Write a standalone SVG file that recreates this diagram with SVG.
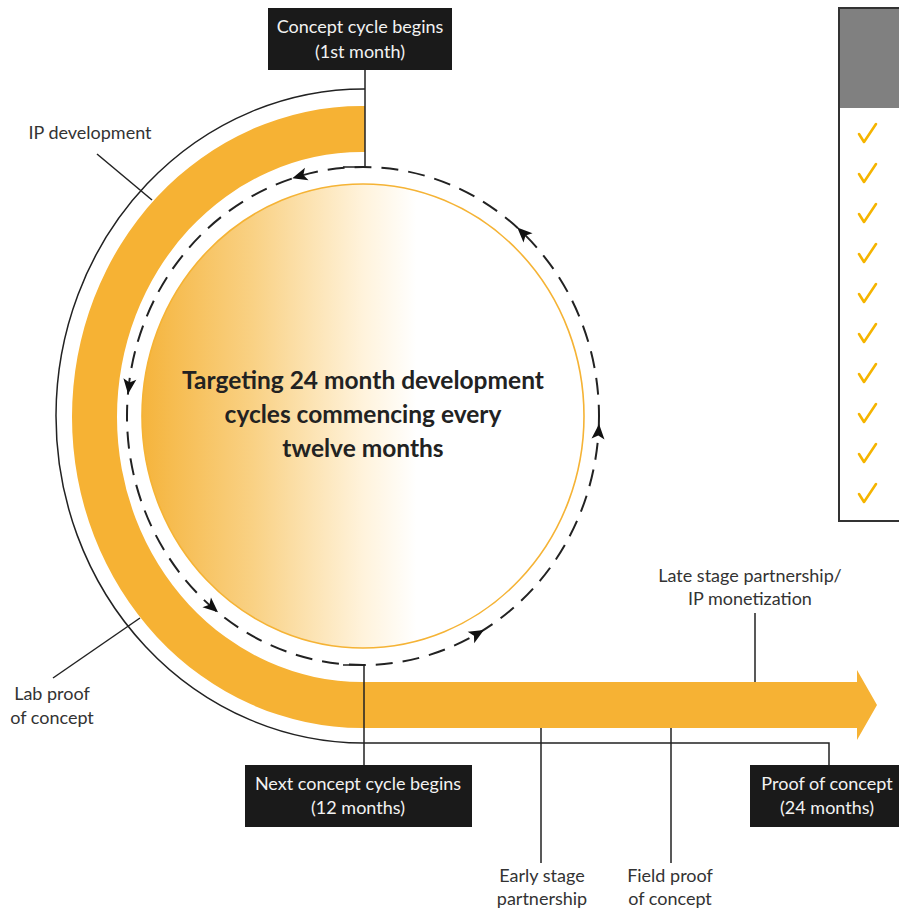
<svg xmlns="http://www.w3.org/2000/svg" width="899" height="913" viewBox="0 0 899 913">
<style>
.lbl{font-family:Lato,"Open Sans","Liberation Sans",sans-serif;font-size:18px;fill:#333;text-anchor:middle}
.box{fill:#1a1a1a}
.boxt{font-family:Lato,"Open Sans","Liberation Sans",sans-serif;font-size:18px;fill:#f2f2f2;text-anchor:middle}
.ctr{font-family:Lato,"Open Sans","Liberation Sans",sans-serif;font-size:24.5px;font-weight:bold;fill:#222;text-anchor:middle}
.thin{fill:none;stroke:#222;stroke-width:1.5}
.dash{fill:none;stroke:#222;stroke-width:2;stroke-dasharray:17 10}
.chk{fill:none;stroke:#f5b400;stroke-width:2.6;stroke-linecap:round;stroke-linejoin:round}
.ah{fill:#111}
</style>
<defs>
<linearGradient id="g" x1="142" y1="0" x2="585" y2="0" gradientUnits="userSpaceOnUse">
<stop offset="0" stop-color="#f5b43c"/>
<stop offset="0.25" stop-color="#f9d184"/>
<stop offset="0.5" stop-color="#fff3dc"/>
<stop offset="0.62" stop-color="#ffffff"/>
<stop offset="1" stop-color="#ffffff"/>
</linearGradient>
<polygon id="ahd" points="8,0 -7,-6.5 -3.5,0 -7,6.5"/>
</defs>
<rect width="899" height="913" fill="#ffffff"/>

<g id="inner-circle">
<ellipse cx="363" cy="416" rx="221" ry="232" fill="url(#g)" stroke="#f5b335" stroke-width="1.6"/>
<text class="ctr" x="363" y="389">Targeting 24 month development</text>
<text class="ctr" x="363" y="423">cycles commencing every</text>
<text class="ctr" x="363" y="457">twelve months</text>
</g>

<g id="band">
<path d="M365,106 L362,106 A290,311 0 0 0 362,728 L857,728 L857,740 L877,705 L857,670 L857,682 L362,682 A245,265 0 0 1 362,152 L365,152 Z" fill="#f6b234"/>
</g>

<g id="panel">
<rect x="839" y="8" width="80" height="513" fill="#ffffff" stroke="#333" stroke-width="2"/>
<rect x="840" y="9" width="79" height="99" fill="#808080"/>
<g>
<path class="chk" d="M859,134 L864,142 L876,124"/>
<path class="chk" d="M859,174 L864,182 L876,164"/>
<path class="chk" d="M859,214 L864,222 L876,204"/>
<path class="chk" d="M859,254 L864,262 L876,244"/>
<path class="chk" d="M859,294 L864,302 L876,284"/>
<path class="chk" d="M859,334 L864,342 L876,324"/>
<path class="chk" d="M859,374 L864,382 L876,364"/>
<path class="chk" d="M859,414 L864,422 L876,404"/>
<path class="chk" d="M859,454 L864,462 L876,444"/>
<path class="chk" d="M859,494 L864,502 L876,484"/>
</g>
</g>

<g id="connectors">
<ellipse class="dash" cx="363" cy="416" rx="236" ry="249"/>
<use href="#ahd" class="ah" transform="translate(300,176) rotate(164)"/>
<use href="#ahd" class="ah" transform="translate(129,386) rotate(97)"/>
<use href="#ahd" class="ah" transform="translate(212,607) rotate(41)"/>
<use href="#ahd" class="ah" transform="translate(477,634) rotate(-30)"/>
<use href="#ahd" class="ah" transform="translate(598.5,432) rotate(-86)"/>
<use href="#ahd" class="ah" transform="translate(523,233) rotate(-136)"/>
<path class="thin" d="M365,89 A308,327 0 0 0 363,743 L829,743 L829,765"/>
<path class="thin" d="M365,70 L365,167 L343,167"/>
<path class="thin" d="M364,765 L364,665 L343,665"/>
<path class="thin" d="M97,154 L152,200"/>
<path class="thin" d="M53,678 L140,618"/>
<path class="thin" d="M541,728 L541,863"/>
<path class="thin" d="M671,728 L671,863"/>
<path class="thin" d="M755,613 L755,682"/>
</g>

<g id="concept-start">
<rect class="box" x="268" y="8" width="184" height="62"/>
<text class="boxt" x="360" y="33">Concept cycle begins</text>
<text class="boxt" x="360" y="58">(1st month)</text>
</g>

<g id="next-concept">
<rect class="box" x="245" y="765" width="227" height="62"/>
<text class="boxt" x="358" y="790">Next concept cycle begins</text>
<text class="boxt" x="358" y="814">(12 months)</text>
</g>

<g id="proof-24">
<rect class="box" x="750" y="765" width="160" height="62"/>
<text class="boxt" x="827" y="790">Proof of concept</text>
<text class="boxt" x="827" y="814">(24 months)</text>
</g>

<g id="ip-development">
<text class="lbl" x="90" y="139">IP development</text>
</g>

<g id="lab-proof">
<text class="lbl" x="52" y="700">Lab proof</text>
<text class="lbl" x="52" y="724">of concept</text>
</g>

<g id="early-stage">
<text class="lbl" x="542" y="882">Early stage</text>
<text class="lbl" x="542" y="905">partnership</text>
</g>

<g id="field-proof">
<text class="lbl" x="670" y="882">Field proof</text>
<text class="lbl" x="670" y="905">of concept</text>
</g>

<g id="late-stage">
<text class="lbl" x="750" y="582">Late stage partnership/</text>
<text class="lbl" x="750" y="605">IP monetization</text>
</g>
</svg>
